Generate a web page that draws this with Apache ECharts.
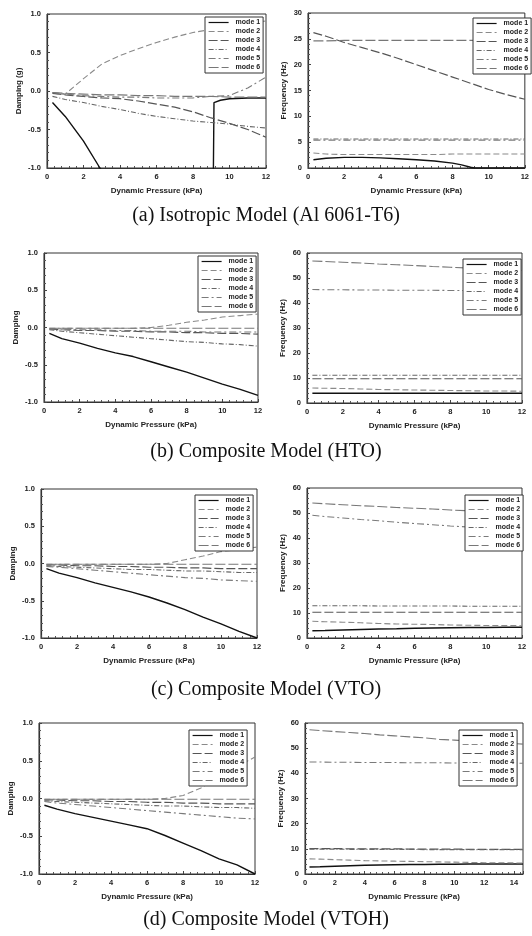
<!DOCTYPE html>
<html>
<head>
<meta charset="utf-8">
<script src="https://cdn.jsdelivr.net/npm/echarts@6/dist/echarts.min.js"></script>
<style>html,body{margin:0;padding:0;background:#fff}#c{width:532px;height:936px}</style>
</head>
<body>
<div id="c"></div>
<script>
// ---------- DATA ----------
const modes = ['mode 1','mode 2','mode 3','mode 4','mode 5','mode 6'];
const xs  = [0.3,1,2,3,4,5,6,7,8,9,10,11,12];
const xsD = [0.3,1,2,3,4,5,6,7,8,9,10,11,12,13,14,14.6];
const xTicks12 = [0,2,4,6,8,10,12];
const dampTicks = [-1.0,-0.5,0.0,0.5,1.0];

// (a) Isotropic – damping
const aD1x = [0.3,1,2,2.9,4,6,8,9.1,9.15,9.5,10,11,12];
const aD1y = [-0.15,-0.33,-0.65,-1.0,-1.4,-1.6,-1.6,-1.5,-0.15,-0.12,-0.10,-0.09,-0.09];
const aD2 = [-0.03,-0.04,0.16,0.35,0.46,0.55,0.63,0.70,0.76,0.80,0.84,0.88,0.91];
const aD3 = [-0.03,-0.05,-0.07,-0.09,-0.10,-0.13,-0.17,-0.21,-0.27,-0.35,-0.42,-0.50,-0.60];
const aD4 = [-0.07,-0.11,-0.15,-0.20,-0.24,-0.29,-0.33,-0.36,-0.39,-0.41,-0.43,-0.46,-0.48];
const aD5 = [-0.02,-0.04,-0.06,-0.07,-0.08,-0.08,-0.09,-0.09,-0.09,-0.07,-0.06,0.04,0.18];
const aD6 = [-0.02,-0.03,-0.04,-0.05,-0.05,-0.06,-0.06,-0.07,-0.07,-0.07,-0.08,-0.08,-0.08];
// (a) Isotropic – frequency
const aF1x = [0.3,1,2,3,4,5,6,7,8,8.5,9,9.2,10,11,12];
const aF1y = [1.6,1.9,2.05,2.05,1.95,1.8,1.6,1.35,0.95,0.6,0.15,0,0,0,0];
const aF2 = [2.9,2.7,2.6,2.6,2.6,2.6,2.6,2.6,2.7,2.7,2.7,2.7,2.7];
const aF3 = [26.2,25.5,24.3,23.3,22.3,21.2,20.0,18.8,17.6,16.4,15.2,14.2,13.3];
const aF4 = [5.6,5.6,5.6,5.6,5.6,5.6,5.6,5.6,5.6,5.6,5.6,5.6,5.6];
const aF5 = [5.4,5.4,5.4,5.4,5.4,5.4,5.4,5.4,5.4,5.4,5.4,5.4,5.4];
const aF6 = [24.6,24.6,24.7,24.7,24.7,24.7,24.7,24.7,24.7,24.7,24.7,24.7,24.7];

// (b) HTO – damping
const bD1 = [-0.08,-0.15,-0.21,-0.28,-0.34,-0.39,-0.46,-0.53,-0.60,-0.68,-0.76,-0.83,-0.91];
const bD2 = [-0.01,-0.01,-0.01,-0.01,-0.01,-0.01,0.0,0.03,0.07,0.10,0.14,0.16,0.18];
const bD3 = [-0.02,-0.03,-0.04,-0.04,-0.05,-0.05,-0.06,-0.06,-0.07,-0.07,-0.08,-0.08,-0.09];
const bD4 = [-0.03,-0.05,-0.07,-0.09,-0.11,-0.13,-0.15,-0.17,-0.19,-0.20,-0.22,-0.23,-0.25];
const bD5 = [-0.02,-0.02,-0.03,-0.03,-0.04,-0.04,-0.05,-0.05,-0.05,-0.06,-0.06,-0.06,-0.06];
const bD6 = [-0.01,-0.01,-0.01,-0.01,-0.01,-0.01,-0.01,-0.01,-0.01,-0.01,-0.01,-0.01,-0.01];
// (b) HTO – frequency
const bF1 = [3.9,3.9,3.9,3.9,3.9,3.9,3.9,3.9,3.9,3.9,3.9,3.9,3.9];
const bF2 = [6.0,5.9,5.8,5.6,5.4,5.3,5.2,5.1,5.0,4.9,4.8,4.8,4.7];
const bF3 = [9.7,9.7,9.7,9.7,9.7,9.7,9.7,9.7,9.7,9.7,9.7,9.7,9.7];
const bF4 = [11.1,11.1,11.1,11.1,11.1,11.1,11.1,11.1,11.1,11.1,11.1,11.1,11.1];
const bF5 = [45.4,45.3,45.3,45.2,45.2,45.1,45.1,45.1,45.0,45.0,45.0,45.0,45.0];
const bF6 = [56.8,56.6,56.3,56.0,55.6,55.3,55.0,54.6,54.3,54.0,53.7,53.4,53.0];

// (c) VTO – damping
const cD1 = [-0.07,-0.13,-0.19,-0.26,-0.32,-0.38,-0.45,-0.53,-0.62,-0.72,-0.81,-0.91,-1.0];
const cD2 = [-0.01,-0.01,-0.01,-0.01,-0.01,-0.01,-0.01,0.0,0.05,0.10,0.16,0.19,0.22];
const cD3 = [-0.02,-0.02,-0.03,-0.03,-0.04,-0.04,-0.05,-0.05,-0.06,-0.06,-0.07,-0.07,-0.07];
const cD4 = [-0.03,-0.04,-0.05,-0.06,-0.07,-0.08,-0.08,-0.09,-0.10,-0.10,-0.11,-0.12,-0.12];
const cD5 = [-0.04,-0.05,-0.07,-0.09,-0.11,-0.13,-0.15,-0.17,-0.19,-0.20,-0.22,-0.23,-0.24];
const cD6 = [-0.01,-0.01,-0.01,-0.01,-0.01,-0.01,-0.01,-0.01,-0.01,-0.01,-0.01,-0.01,-0.01];
// (c) VTO – frequency
const cF1 = [2.9,3.0,3.2,3.4,3.6,3.7,3.9,4.0,4.1,4.2,4.2,4.3,4.3];
const cF2 = [6.7,6.5,6.3,6.1,5.8,5.6,5.5,5.4,5.2,5.1,5.0,5.0,4.9];
const cF3 = [10.3,10.3,10.3,10.3,10.3,10.3,10.3,10.3,10.3,10.3,10.3,10.3,10.3];
const cF4 = [12.9,12.9,12.9,12.9,12.8,12.8,12.8,12.8,12.8,12.7,12.7,12.7,12.7];
const cF5 = [49.1,48.6,48.0,47.4,46.9,46.3,45.8,45.3,44.8,44.4,43.9,43.6,43.3];
const cF6 = [54.0,53.7,53.3,52.9,52.6,52.2,51.9,51.6,51.2,50.9,50.6,50.3,50.0];

// (d) VTOH – damping
const dD1 = [-0.09,-0.14,-0.20,-0.25,-0.30,-0.35,-0.40,-0.49,-0.59,-0.69,-0.80,-0.88,-1.0];
const dD2 = [-0.01,-0.01,-0.01,-0.01,-0.01,-0.01,-0.01,0.0,0.04,0.14,0.28,0.42,0.55];
const dD3 = [-0.02,-0.02,-0.03,-0.03,-0.04,-0.04,-0.05,-0.05,-0.06,-0.06,-0.07,-0.07,-0.07];
const dD4 = [-0.03,-0.04,-0.05,-0.06,-0.07,-0.08,-0.09,-0.10,-0.10,-0.11,-0.12,-0.12,-0.13];
const dD5 = [-0.04,-0.06,-0.08,-0.10,-0.12,-0.14,-0.16,-0.18,-0.20,-0.22,-0.24,-0.26,-0.27];
const dD6 = [-0.01,-0.01,-0.01,-0.01,-0.01,-0.01,-0.01,-0.01,-0.01,-0.01,-0.01,-0.01,-0.01];
// (d) VTOH – frequency
const dF1 = [2.8,2.9,3.1,3.3,3.5,3.6,3.7,3.8,3.8,3.9,3.9,4.0,4.0,4.0,4.0,4.0];
const dF2 = [6.0,5.9,5.7,5.5,5.3,5.2,5.1,5.0,4.9,4.8,4.7,4.6,4.5,4.5,4.4,4.4];
const dF3 = [10.1,10.1,10.1,10.0,10.0,10.0,10.0,9.9,9.9,9.9,9.9,9.8,9.8,9.8,9.8,9.8];
const dF4 = [9.9,9.9,9.9,9.8,9.8,9.8,9.8,9.8,9.7,9.7,9.7,9.7,9.7,9.7,9.7,9.7];
const dF5 = [44.5,44.5,44.4,44.4,44.3,44.3,44.3,44.2,44.2,44.2,44.1,44.1,44.1,44.0,44.0,44.0];
const dF6 = [57.3,57.0,56.6,56.2,55.8,55.3,54.9,54.5,54.1,53.5,53.2,52.8,52.5,52.1,51.8,51.6];

const captions = ['(a) Isotropic Model (Al 6061-T6)','(b) Composite Model (HTO)','(c) Composite Model (VTO)','(d) Composite Model (VTOH)'];

// ---------- BUILD ----------
const pairs = (xa, ya) => xa.map((x, i) => [x, ya[i]]);
const styles = [
  {color:'#111', width:1.4, type:'solid'},
  {color:'#8a8a8a', width:1.1, type:[6,3]},
  {color:'#555', width:1.2, type:[9,3]},
  {color:'#666', width:1.1, type:[5,2,1,2]},
  {color:'#7a7a7a', width:1.1, type:[7,3,2,3]},
  {color:'#777', width:1.1, type:[10,3]}
];

const panels = [
  {g:{left:47,top:14,width:219,height:154}, xMax:12, damp:true, yName:'Damping (g)', lg:[205,17],
   s:[pairs(aD1x,aD1y),pairs(xs,aD2),pairs(xs,aD3),pairs(xs,aD4),pairs(xs,aD5),pairs(xs,aD6)]},
  {g:{left:308,top:13,width:223,height:155}, xMax:12, damp:false, fMax:30, fInt:5, yName:'Frequency (Hz)', lg:[473,18],
   s:[pairs(aF1x,aF1y),pairs(xs,aF2),pairs(xs,aF3),pairs(xs,aF4),pairs(xs,aF5),pairs(xs,aF6)]},
  {g:{left:44,top:253,width:214,height:149}, xMax:12, damp:true, yName:'Damping', lg:[198,256],
   s:[pairs(xs,bD1),pairs(xs,bD2),pairs(xs,bD3),pairs(xs,bD4),pairs(xs,bD5),pairs(xs,bD6)]},
  {g:{left:307,top:253,width:215,height:150}, xMax:12, damp:false, fMax:60, fInt:10, yName:'Frequency (Hz)', lg:[463,259],
   s:[pairs(xs,bF1),pairs(xs,bF2),pairs(xs,bF3),pairs(xs,bF4),pairs(xs,bF5),pairs(xs,bF6)]},
  {g:{left:41,top:489,width:216,height:149}, xMax:12, damp:true, yName:'Damping', lg:[195,495],
   s:[pairs(xs,cD1),pairs(xs,cD2),pairs(xs,cD3),pairs(xs,cD4),pairs(xs,cD5),pairs(xs,cD6)]},
  {g:{left:307,top:488,width:215,height:150}, xMax:12, damp:false, fMax:60, fInt:10, yName:'Frequency (Hz)', lg:[465,495],
   s:[pairs(xs,cF1),pairs(xs,cF2),pairs(xs,cF3),pairs(xs,cF4),pairs(xs,cF5),pairs(xs,cF6)]},
  {g:{left:39,top:723,width:216,height:151}, xMax:12, damp:true, yName:'Damping', lg:[189,730],
   s:[pairs(xs,dD1),pairs(xs,dD2),pairs(xs,dD3),pairs(xs,dD4),pairs(xs,dD5),pairs(xs,dD6)]},
  {g:{left:305,top:723,width:218,height:151}, xMax:14.6, damp:false, fMax:60, fInt:10, yName:'Frequency (Hz)', lg:[459,730],
   s:[pairs(xsD,dF1),pairs(xsD,dF2),pairs(xsD,dF3),pairs(xsD,dF4),pairs(xsD,dF5),pairs(xsD,dF6)]}
];

const SANS = 'Liberation Sans';
const lblStyle = {fontSize:7.5, fontWeight:'bold', color:'#222', fontFamily:SANS};
const grid = [], xAxis = [], yAxis = [], series = [], legend = [];

panels.forEach((p, i) => {
  grid.push(Object.assign({show:true, borderColor:'#333', borderWidth:1, backgroundColor:'#fff'}, p.g));
  xAxis.push({
    gridIndex:i, type:'value', min:0, max:p.xMax, interval:2,
    name:'Dynamic Pressure (kPa)', nameLocation:'middle', nameGap:19,
    nameTextStyle:{fontSize:8, fontWeight:'bold', color:'#222', fontFamily:SANS},
    axisLine:{show:true, onZero:false, lineStyle:{color:'#333', width:1.2}},
    axisTick:{show:true, inside:true, length:3, lineStyle:{color:'#444'}},
    minorTick:{show:true, splitNumber:5, length:2, lineStyle:{color:'#555'}},
    axisLabel:Object.assign({margin:5, showMaxLabel: p.xMax === 12}, lblStyle),
    splitLine:{show:false}
  });
  yAxis.push({
    gridIndex:i, type:'value',
    min: p.damp ? -1 : 0, max: p.damp ? 1 : p.fMax, interval: p.damp ? 0.5 : p.fInt,
    name:p.yName, nameLocation:'middle', nameGap: p.damp ? 24 : 20,
    nameTextStyle:{fontSize:8, fontWeight:'bold', color:'#222', fontFamily:SANS},
    axisLine:{show:true, onZero:false, lineStyle:{color:'#333', width:1.2}},
    axisTick:{show:true, inside:true, length:3, lineStyle:{color:'#444'}},
    minorTick:{show:true, splitNumber:5, length:2, lineStyle:{color:'#555'}},
    axisLabel:Object.assign({margin:6, formatter: v => p.damp ? v.toFixed(1) : String(v)}, lblStyle),
    splitLine:{show:false}
  });
  p.s.forEach((d, k) => {
    series.push({
      type:'line', name:modes[k], xAxisIndex:i, yAxisIndex:i, data:d,
      symbol:'none', showSymbol:false, clip:true, animation:false,
      lineStyle:Object.assign({}, styles[k]), itemStyle:{color:styles[k].color}, z:2
    });
  });
  legend.push({
    left:p.lg[0], top:p.lg[1], orient:'vertical', data:modes, selectedMode:false,
    itemWidth:20, itemHeight:7, itemGap:2, padding:[2,3,2,3],
    borderColor:'#333', borderWidth:1, backgroundColor:'#fff',
    itemStyle:{opacity:0},
    lineStyle:{width:1.2},
    textStyle:{fontSize:7, fontWeight:'bold', color:'#222', fontFamily:SANS, padding:[0,0,0,2]}
  });
});

const capY = [217, 453, 691, 921];
const graphic = captions.map((t, i) => ({
  type:'text', left:'center', top:capY[i] - 11,
  style:{text:t, font:'20px "Liberation Serif"', fill:'#111'}
}));

const chart = echarts.init(document.getElementById('c'), null, {renderer:'canvas'});
chart.setOption({animation:false, grid, xAxis, yAxis, series, legend, graphic});
</script>
</body>
</html>
